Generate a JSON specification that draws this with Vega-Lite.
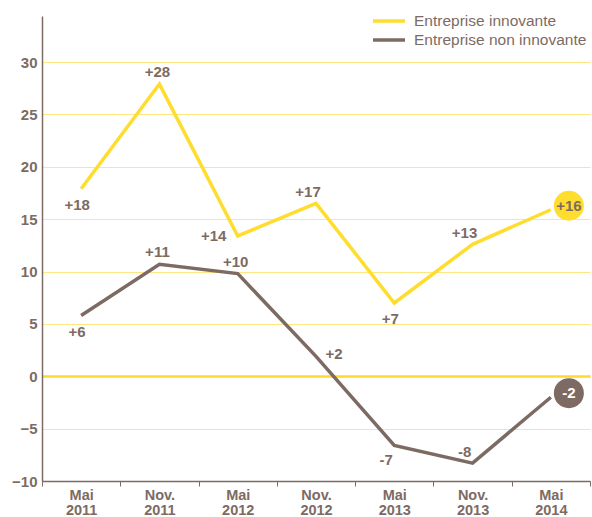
{
  "$schema": "https://vega.github.io/schema/vega-lite/v6.json",
  "width": 548,
  "height": 465,
  "autosize": "none",
  "padding": {"left": 42, "top": 16, "right": 2, "bottom": 36},
  "background": "white",
  "config": {
    "view": {"stroke": null},
    "font": "Liberation Sans"
  },
  "data": {
    "values": [
      {"periode": "Mai 2011", "serie": "Entreprise innovante", "valeur": 17.9, "label": "+18"},
      {"periode": "Nov. 2011", "serie": "Entreprise innovante", "valeur": 27.9, "label": "+28"},
      {"periode": "Mai 2012", "serie": "Entreprise innovante", "valeur": 13.4, "label": "+14"},
      {"periode": "Nov. 2012", "serie": "Entreprise innovante", "valeur": 16.5, "label": "+17"},
      {"periode": "Mai 2013", "serie": "Entreprise innovante", "valeur": 7.0, "label": "+7"},
      {"periode": "Nov. 2013", "serie": "Entreprise innovante", "valeur": 12.6, "label": "+13"},
      {"periode": "Mai 2014", "serie": "Entreprise innovante", "valeur": 15.9, "label": "+16"},
      {"periode": "Mai 2011", "serie": "Entreprise non innovante", "valeur": 5.8, "label": "+6"},
      {"periode": "Nov. 2011", "serie": "Entreprise non innovante", "valeur": 10.7, "label": "+11"},
      {"periode": "Mai 2012", "serie": "Entreprise non innovante", "valeur": 9.8, "label": "+10"},
      {"periode": "Nov. 2012", "serie": "Entreprise non innovante", "valeur": 1.9, "label": "+2"},
      {"periode": "Mai 2013", "serie": "Entreprise non innovante", "valeur": -6.6, "label": "-7"},
      {"periode": "Nov. 2013", "serie": "Entreprise non innovante", "valeur": -8.3, "label": "-8"},
      {"periode": "Mai 2014", "serie": "Entreprise non innovante", "valeur": -2.0, "label": "-2"}
    ]
  },
  "encoding": {
    "x": {
      "field": "periode",
      "type": "ordinal",
      "sort": ["Mai 2011", "Nov. 2011", "Mai 2012", "Nov. 2012", "Mai 2013", "Nov. 2013", "Mai 2014"],
      "scale": {"type": "band", "paddingInner": 0, "paddingOuter": 0},
      "axis": {
        "title": null,
        "labelAngle": 0,
        "labelExpr": "split(datum.label, ' ')",
        "labelFont": "Liberation Sans",
        "labelFontWeight": "bold",
        "labelFontSize": 14.5,
        "labelColor": "#7d6b63",
        "labelLineHeight": 15.5,
        "labelPadding": 2,
        "domainColor": "#7d6b63",
        "domainWidth": 1.5,
        "tickColor": "#7d6b63",
        "tickSize": 5,
        "tickBand": "extent",
        "grid": false
      }
    },
    "y": {
      "field": "valeur",
      "type": "quantitative",
      "scale": {"domain": [-10, 34.4], "nice": false, "zero": false},
      "axis": {
        "title": null,
        "values": [-10, -5, 0, 5, 10, 15, 20, 25, 30],
        "labelFont": "Liberation Sans",
        "labelFontWeight": "bold",
        "labelFontSize": 15,
        "labelColor": "#7d6b63",
        "labelPadding": 5,
        "ticks": false,
        "domainColor": "#7d6b63",
        "domainWidth": 1.5,
        "grid": true,
        "gridColor": {"condition": {"test": "datum.value === 0", "value": "#ffd92e"}, "value": "#ffe680"},
        "gridWidth": {"condition": {"test": "datum.value === 0", "value": 2.5}, "value": 1}
      }
    },
    "color": {
      "field": "serie",
      "type": "nominal",
      "scale": {"domain": ["Entreprise innovante", "Entreprise non innovante"], "range": ["#ffdd2e", "#7d6b63"]},
      "legend": {
        "title": null,
        "orient": "none",
        "legendX": 337,
        "legendY": -5,
        "symbolType": "M-2,0H2",
        "symbolSize": 256,
        "symbolStrokeWidth": 3.5,
        "rowPadding": -2,
        "labelFont": "Liberation Sans",
        "labelFontSize": 15.5,
        "labelColor": "#7d6b63",
        "labelOffset": 15,
        "labelLimit": 300
      }
    }
  },
  "layer": [
    {"mark": {"type": "line", "strokeWidth": 3.5, "strokeJoin": "miter"}},
    {
      "transform": [{"filter": "datum.periode === 'Mai 2014'"}],
      "mark": {"type": "point", "shape": "circle", "filled": true, "opacity": 1, "size": 900, "xOffset": 18, "yOffset": -4},
      "encoding": {"color": {"field": "serie", "type": "nominal", "legend": null}}
    },
    {
      "transform": [{"filter": "datum.periode === 'Mai 2014' && datum.serie === 'Entreprise innovante'"}],
      "mark": {"type": "text", "fontWeight": "bold", "fontSize": 15, "xOffset": 18, "yOffset": -4, "baseline": "middle"},
      "encoding": {"text": {"field": "label"}, "color": {"value": "#7d6b63"}}
    },
    {
      "transform": [{"filter": "datum.periode === 'Mai 2014' && datum.serie === 'Entreprise non innovante'"}],
      "mark": {"type": "text", "fontWeight": "bold", "fontSize": 15, "xOffset": 18, "yOffset": -4, "baseline": "middle"},
      "encoding": {"text": {"field": "label"}, "color": {"value": "#ffffff"}}
    },
    {
      "transform": [{"filter": "(datum.periode === 'Mai 2011') || (datum.periode === 'Mai 2013' && datum.serie === 'Entreprise innovante')"}],
      "mark": {"type": "text", "fontWeight": "bold", "fontSize": 15, "dy": 16, "dx": -4, "baseline": "middle"},
      "encoding": {"text": {"field": "label"}, "color": {"value": "#7d6b63"}}
    },
    {
      "transform": [{"filter": "datum.periode === 'Mai 2013' && datum.serie === 'Entreprise non innovante'"}],
      "mark": {"type": "text", "fontWeight": "bold", "fontSize": 15, "dy": 15, "dx": -8, "baseline": "middle"},
      "encoding": {"text": {"field": "label"}, "color": {"value": "#7d6b63"}}
    },
    {
      "transform": [{"filter": "datum.periode === 'Nov. 2011' || (datum.periode === 'Mai 2012' && datum.serie === 'Entreprise non innovante')"}],
      "mark": {"type": "text", "fontWeight": "bold", "fontSize": 15, "dy": -12, "dx": -2, "baseline": "middle"},
      "encoding": {"text": {"field": "label"}, "color": {"value": "#7d6b63"}}
    },
    {
      "transform": [{"filter": "(datum.periode === 'Nov. 2012' && datum.serie === 'Entreprise innovante') || (datum.periode === 'Nov. 2013')"}],
      "mark": {"type": "text", "fontWeight": "bold", "fontSize": 15, "dy": -11, "dx": -8, "baseline": "middle"},
      "encoding": {"text": {"field": "label"}, "color": {"value": "#7d6b63"}}
    },
    {
      "transform": [{"filter": "datum.periode === 'Mai 2012' && datum.serie === 'Entreprise innovante'"}],
      "mark": {"type": "text", "fontWeight": "bold", "fontSize": 15, "dx": -24, "dy": 0, "baseline": "middle"},
      "encoding": {"text": {"field": "label"}, "color": {"value": "#7d6b63"}}
    },
    {
      "transform": [{"filter": "datum.periode === 'Nov. 2012' && datum.serie === 'Entreprise non innovante'"}],
      "mark": {"type": "text", "fontWeight": "bold", "fontSize": 15, "dx": 18, "dy": -2, "baseline": "middle"},
      "encoding": {"text": {"field": "label"}, "color": {"value": "#7d6b63"}}
    }
  ]
}
